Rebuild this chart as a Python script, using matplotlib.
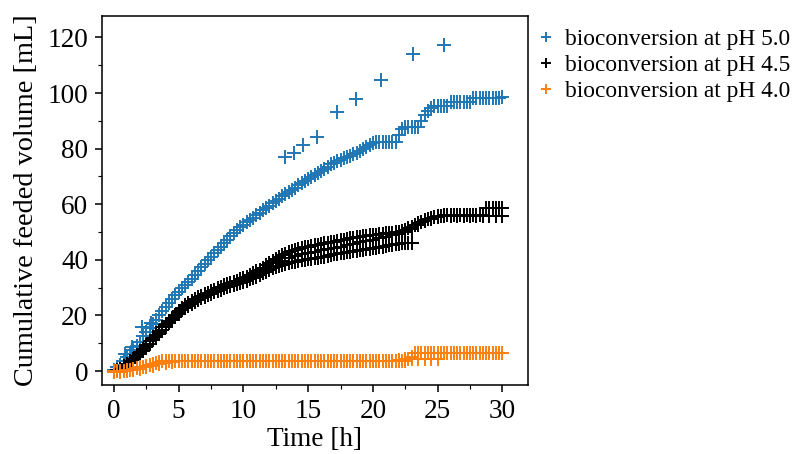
import numpy as np
import matplotlib
matplotlib.use("Agg")
import matplotlib.pyplot as plt
from matplotlib.ticker import AutoMinorLocator

plt.rcParams['font.family'] = ['Liberation Serif', 'DejaVu Serif']

# logger samples every 15 min (dense runs) or 30 min (third replicate)
STEP_FINE = 0.25
STEP_COARSE = 0.5

# pH 5.0 -- dense run
ph50_a = [
    0.5, 1.3, 2.3, 3.5, 5.0, 6.3, 7.7, 9.0,
    10.5, 12.5, 14.0, 15.5, 17.0, 18.5, 20.0, 21.5,
    23.0, 24.5, 26.0, 27.3, 28.5, 29.7, 30.8, 32.0,
    33.0, 34.5, 36.0, 37.3, 38.6, 39.8, 41.0, 42.5,
    43.5, 44.8, 46.0, 47.2, 48.4, 49.6, 50.7, 51.8,
    52.7, 53.5, 54.3, 55.2, 56.0, 57.0, 57.8, 58.7,
    59.5, 60.3, 61.0, 62.0, 62.8, 63.6, 64.4, 65.2,
    66.0, 66.8, 67.5, 68.2, 69.0, 69.7, 70.5, 71.2,
    72.0, 72.8, 73.5, 74.3, 75.0, 75.5, 76.0, 76.5,
    77.0, 77.5, 78.0, 78.5, 79.0, 79.8, 80.5, 81.2,
    82.0, 82.3, 82.5, 82.5, 82.5, 82.5, 82.5, 82.5,
    85.0, 87.0, 87.6, 87.6, 87.6, 87.6, 87.6, 90.0,
    92.0, 93.5, 94.5, 95.5, 95.5, 95.5, 95.5, 95.5,
    96.8, 96.8, 96.8, 96.8, 96.8, 96.8, 96.8, 98.2,
    98.2, 98.2, 98.2, 98.2, 98.2, 98.2, 98.2, 98.2,
    98.7,
]
# pH 5.0 -- sparse run
ph50_b_t = [0.85, 1.4, 2.15, 2.9, 13.2, 13.9, 14.6, 15.7, 17.2, 18.7, 20.6, 23.1, 25.5]
ph50_b = [6.3, 8.5, 15.9, 17.3, 76.9, 78.3, 81.3, 84.3, 93.3, 97.7, 104.7, 114.0, 117.3]

# pH 4.5
ph45_a = [
    0.0, 0.3, 0.9, 1.7, 2.5, 3.5, 4.5, 5.5,
    6.7, 7.8, 9.3, 10.9, 12.0, 13.0, 14.3, 15.7,
    16.9, 18.0, 19.2, 20.3, 21.5, 22.7, 23.6, 24.4,
    25.2, 25.9, 26.5, 27.1, 27.7, 28.2, 28.7, 29.3,
    29.8, 30.3, 30.8, 31.2, 31.6, 32.0, 32.5, 33.0,
    33.5, 34.0, 34.6, 35.2, 35.9, 36.5, 37.2, 38.0,
    38.9, 39.6, 40.3, 41.0, 41.6, 42.2, 42.7, 43.1,
    43.5, 43.9, 44.2, 44.5, 44.8, 45.0, 45.3, 45.5,
    45.7, 45.9, 46.1, 46.4, 46.6, 46.8, 47.0, 47.3,
    47.5, 47.7, 47.9, 48.1, 48.3, 48.5, 48.7, 48.9,
    49.0, 49.1, 49.2, 49.3, 49.5, 49.6, 49.8, 49.9,
    50.0, 50.3, 50.8, 51.3, 51.9, 52.5, 53.1, 53.7,
    54.3, 54.8, 55.2, 55.5, 55.7, 55.9, 56.0, 56.1,
    56.1, 56.1, 56.1, 56.1, 56.1, 56.1, 56.1, 56.1,
    56.1, 56.1, 56.1, 58.5, 58.6, 58.6, 58.6, 58.6,
    58.6,
]
ph45_b = [
    0.0, 0.2, 0.6, 1.2, 2.0, 2.9, 3.9, 4.9,
    6.0, 7.2, 8.5, 9.8, 11.0, 12.2, 13.5, 14.8,
    16.0, 17.2, 18.4, 19.5, 20.7, 21.8, 22.7, 23.5,
    24.3, 25.0, 25.6, 26.2, 26.8, 27.3, 27.8, 28.3,
    28.8, 29.3, 29.7, 30.1, 30.5, 30.9, 31.3, 31.7,
    32.1, 32.5, 33.0, 33.5, 34.0, 34.6, 35.2, 35.8,
    36.4, 37.0, 37.4, 37.8, 38.1, 38.5, 38.8, 39.1,
    39.4, 39.6, 39.8, 40.0, 40.2, 40.4, 40.6, 40.8,
    41.0, 41.2, 41.5, 41.7, 42.0, 42.2, 42.4, 42.6,
    42.8, 43.0, 43.2, 43.3, 43.4, 43.6, 43.8, 43.9,
    44.1, 44.3, 44.5, 44.7, 45.0, 45.2, 45.4, 45.6,
    45.8, 45.9, 46.0, 46.0, 46.1,
]
ph45_c = [
    0.0, 0.8, 2.2, 4.2, 6.4, 9.0, 11.6, 14.0, 16.5, 18.8,
    21.0, 23.0, 24.6, 26.0, 27.2, 28.3, 29.3, 30.2, 31.0, 31.9,
    32.8, 33.8, 35.0, 36.3, 37.6, 38.7, 39.7, 40.6, 41.4, 42.0,
    42.5, 43.0, 43.5, 43.9, 44.3, 44.8, 45.3, 45.8, 46.3, 46.8,
    47.3, 47.8, 48.3, 48.8, 49.3, 50.0, 51.0, 52.5, 53.8, 54.8,
    55.3, 55.6, 55.8, 55.9, 55.9, 55.9, 55.9, 55.9, 55.9, 55.9,
    55.9,
]

# pH 4.0
ph40_a = [
    0.0, 0.0, 0.0, 0.2, 0.3, 0.5, 0.8, 1.0,
    1.3, 1.5, 1.8, 2.2, 2.7, 3.0, 3.3, 3.5,
    3.7, 3.8, 3.8, 3.8, 3.8, 3.8, 3.8, 3.8,
    3.8, 3.8, 3.8, 3.8, 3.8, 3.8, 3.8, 3.8,
    3.8, 3.8, 3.8, 3.8, 3.8, 3.8, 3.8, 3.8,
    3.8, 3.8, 3.8, 3.8, 3.8, 3.8, 3.8, 3.8,
    3.8, 3.8, 3.8, 3.8, 3.8, 3.8, 3.8, 3.8,
    3.8, 3.8, 3.8, 3.8, 3.8, 3.8, 3.8, 3.8,
    3.8, 3.8, 3.8, 3.8, 3.8, 3.8, 3.8, 3.8,
    3.8, 3.8, 3.8, 3.8, 3.8, 3.8, 3.8, 3.8,
    3.8, 3.8, 3.8, 3.8, 3.8, 3.8, 3.8, 3.8,
    3.8, 3.8, 3.8, 4.2, 5.0, 6.4, 6.6, 6.6,
    6.6, 6.6, 6.6, 6.6, 6.6, 6.6, 6.6, 6.6,
    6.6, 6.6, 6.6, 6.6, 6.6, 6.6, 6.6, 6.6,
    6.6, 6.6, 6.6, 6.6, 6.6, 6.6, 6.6, 6.6,
    6.6,
]
ph40_b = [
    -0.3, -0.2, 0.0, 0.4, 0.8, 1.4, 2.0, 2.6, 3.0, 3.3,
    3.5, 3.5, 3.5, 3.5, 3.5, 3.5, 3.5, 3.5, 3.5, 3.5,
    3.5, 3.5, 3.5, 3.5, 3.5, 3.5, 3.5, 3.5, 3.5, 3.5,
    3.5, 3.5, 3.5, 3.5, 3.5, 3.5, 3.5, 3.5, 3.5, 3.5,
    3.5, 3.5, 3.6, 3.7, 3.9, 4.2, 4.4, 4.5, 4.5, 4.5,
    4.5,
]

labels = ['bioconversion at pH 5.0', 'bioconversion at pH 4.5', 'bioconversion at pH 4.0']
colors = ['#1f77b4', 'black', '#ff7f0e']


def times(vals, step):
    return np.arange(len(vals)) * step


fig = plt.figure(figsize=(794 / 140, 454 / 140), dpi=140)
ax = fig.add_axes([0.128, 0.152, 0.5373, 0.8128])

kw = dict(marker='+', linestyle='none', markersize=7.4, markeredgewidth=1.0)

groups = [
    [(times(ph50_a, STEP_FINE), ph50_a), (ph50_b_t, ph50_b)],
    [(times(ph45_a, STEP_FINE), ph45_a), (times(ph45_b, STEP_FINE), ph45_b),
     (times(ph45_c, STEP_COARSE), ph45_c)],
    [(times(ph40_a, STEP_FINE), ph40_a), (times(ph40_b, STEP_COARSE), ph40_b)],
]
for runs, lab, col in zip(groups, labels, colors):
    for i, (t, v) in enumerate(runs):
        ax.plot(t, v, color=col, label=lab if i == 0 else None, **kw)

ax.set_xlim(-0.95, 32.0)
ax.set_ylim(-5.0, 127.7)
ax.set_xticks([0, 5, 10, 15, 20, 25, 30])
ax.set_yticks([0, 20, 40, 60, 80, 100, 120])
ax.xaxis.set_minor_locator(AutoMinorLocator(2))
ax.yaxis.set_minor_locator(AutoMinorLocator(2))
ax.tick_params(labelsize=14)
ax.set_xlabel('Time [h]', fontsize=14, labelpad=2)
ax.set_ylabel('Cumulative feeded volume [mL]', fontsize=14.5)

fig.legend(loc='upper left', bbox_to_anchor=(536.7 / 794, 1 - 29 / 454),
           frameon=False, fontsize=12, markerscale=0.72, handlelength=0.8,
           handletextpad=0.4, labelspacing=0.2, borderpad=0, borderaxespad=0)

fig.savefig('out.png', dpi=140)
